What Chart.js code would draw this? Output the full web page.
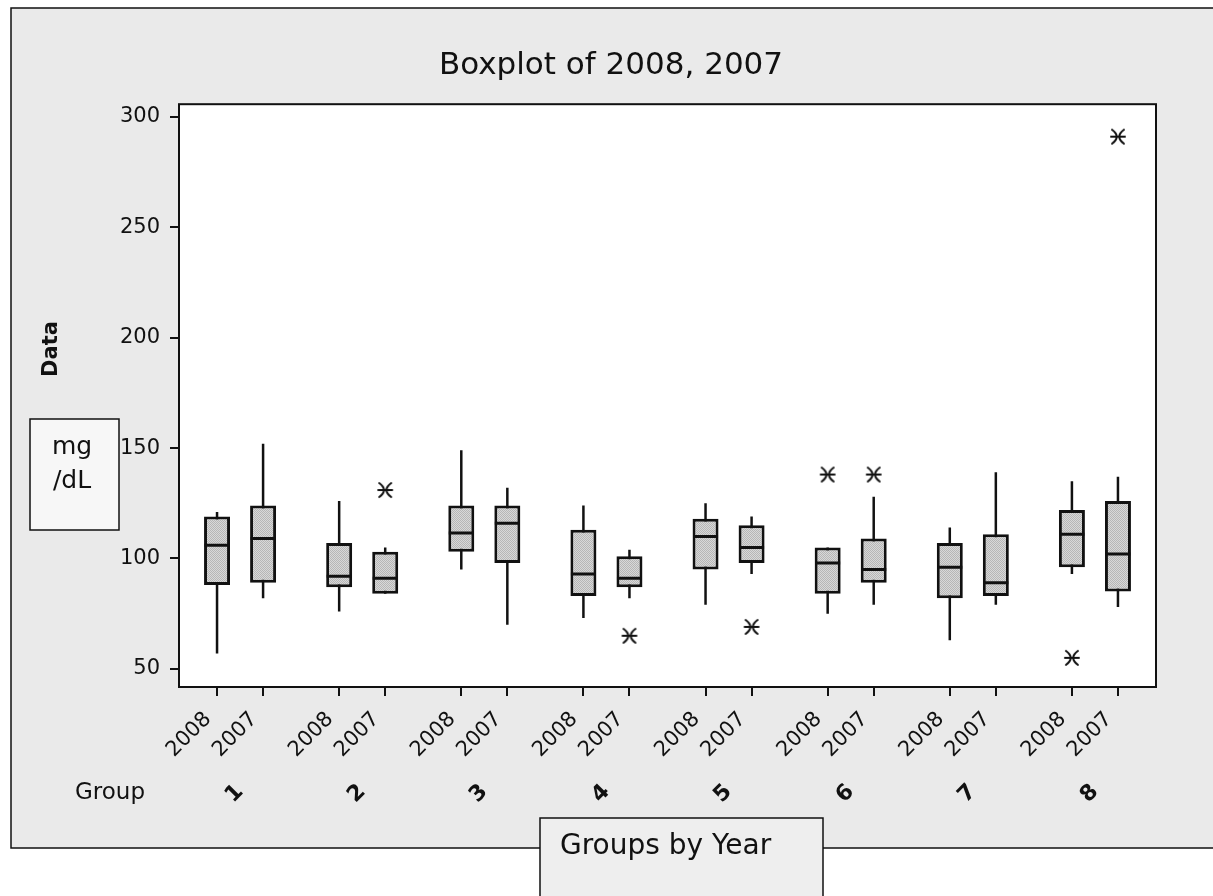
<!DOCTYPE html>
<html><head><meta charset="utf-8">
<script src="https://cdn.jsdelivr.net/npm/chart.js@4"></script>
<style>html,body{margin:0;padding:0;background:#fff;}#wrap{width:1213px;height:896px;position:relative}</style>
</head><body><div id="wrap"><canvas id="c" width="1213" height="896"></canvas></div>
<script>
// ---- data (mg/dL) ----
const groups = ['1','2','3','4','5','6','7','8'];
const years = ['2008','2007'];
const min2008 = [57, 76, 95, 73, 79, 75, 63, 93];
const q1_2008 = [88, 87, 103, 83, 95, 84, 82, 96];
const med2008 = [106, 92, 111.5, 93, 110, 98, 96, 111];
const q3_2008 = [119, 107, 124, 113, 118, 105, 107, 122];
const max2008 = [121, 126, 149, 124, 125, 105, 114, 135];
const out2008 = [[], [], [], [], [], [138], [], [55]];
const min2007 = [82, 84, 70, 82, 93, 79, 79, 78];
const q1_2007 = [89, 84, 98, 87, 98, 89, 83, 85];
const med2007 = [109, 91, 116, 91, 105, 95, 89, 102];
const q3_2007 = [124, 103, 124, 101, 115, 109, 111, 126];
const max2007 = [152, 105, 132, 104, 119, 128, 139, 137];
const out2007 = [[], [131], [], [65], [69], [138], [], [291]];
const yTicks = [50, 100, 150, 200, 250, 300];
const chartTitle = 'Boxplot of 2008, 2007';
const yTitle = 'Data';
const unitText = ['mg', '/dL'];
const groupWord = 'Group';
const xTitle = 'Groups by Year';

// ---- layout helpers ----
const HALF = 0.1885;
const posOf = (g, yi) => (g + 1) + (yi === 0 ? -HALF : HALF);
const series = [
  {mn: min2008, q1: q1_2008, md: med2008, q3: q3_2008, mx: max2008, out: out2008},
  {mn: min2007, q1: q1_2007, md: med2007, q3: q3_2007, mx: max2007, out: out2007}
];
const tickPos = [], tickLab = [];
groups.forEach((g, gi) => years.forEach((y, yi) => { tickPos.push(posOf(gi, yi)); tickLab.push(y); }));
const groupPos = groups.map((g, gi) => gi + 1);

function makeFill() {
  const c = document.createElement('canvas'); c.width = 2; c.height = 2;
  const x = c.getContext('2d');
  x.fillStyle = '#d8d8d8'; x.fillRect(0, 0, 2, 2);
  x.fillStyle = '#b6b6b6'; x.fillRect(0, 0, 1, 1); x.fillRect(1, 1, 1, 1);
  return x.createPattern(c, 'repeat');
}
function makeStar() {
  const c = document.createElement('canvas'); c.width = 18; c.height = 18;
  const x = c.getContext('2d');
  x.strokeStyle = '#111'; x.lineWidth = 2; x.lineCap = 'round';
  x.beginPath();
  x.moveTo(2, 9); x.lineTo(16, 9);
  x.moveTo(3, 2); x.quadraticCurveTo(12.5, 9, 3, 16);
  x.moveTo(15, 2); x.quadraticCurveTo(5.5, 9, 15, 16);
  x.stroke();
  return c;
}
const boxFill = makeFill();
const star = makeStar();

const datasets = [];
series.forEach((s, yi) => {
  datasets.push({type: 'bar', order: 4, grouped: false, maxBarThickness: 2.5,
    backgroundColor: '#111', borderWidth: 0,
    data: s.mn.map((v, g) => ({x: posOf(g, yi), y: [v, s.mx[g]]}))});
  datasets.push({type: 'bar', order: 3, grouped: false, maxBarThickness: 26,
    backgroundColor: boxFill, borderColor: '#111', borderWidth: 3, borderSkipped: false,
    data: s.q1.map((v, g) => ({x: posOf(g, yi), y: [v, s.q3[g]]}))});
  datasets.push({type: 'scatter', order: 2, pointStyle: 'line', pointRadius: 12.5,
    borderColor: '#111', pointBorderWidth: 3, borderWidth: 3,
    data: s.md.map((v, g) => ({x: posOf(g, yi), y: v}))});
  const outs = [];
  s.out.forEach((arr, g) => arr.forEach(v => outs.push({x: posOf(g, yi), y: v})));
  datasets.push({type: 'scatter', order: 1, pointStyle: star, pointRadius: 9, data: outs});
});

const tickFont = {family: 'DejaVu Sans', size: 21};
const deco = {
  id: 'deco',
  beforeDraw(chart) {
    const ctx = chart.ctx, a = chart.chartArea;
    ctx.save();
    ctx.fillStyle = '#eaeaea';
    ctx.fillRect(11, 8, 1230, 840);
    ctx.strokeStyle = '#111'; ctx.lineWidth = 1.5;
    ctx.strokeRect(11, 8, 1230, 840);
    ctx.fillStyle = '#ffffff';
    ctx.fillRect(a.left, a.top, a.right - a.left, a.bottom - a.top);
    ctx.restore();
  },
  afterDraw(chart) {
    const ctx = chart.ctx, a = chart.chartArea;
    ctx.save();
    ctx.strokeStyle = '#111'; ctx.lineWidth = 2;
    ctx.strokeRect(a.left, a.top, a.right - a.left, a.bottom - a.top);
    ctx.fillStyle = '#111';
    ctx.font = 'bold 21px "DejaVu Sans"';
    ctx.translate(52, 349); ctx.rotate(-Math.PI / 2);
    ctx.textAlign = 'center'; ctx.textBaseline = 'middle';
    ctx.fillText(yTitle, 0, 0);
    ctx.setTransform(1, 0, 0, 1, 0, 0);
    ctx.font = '23px "DejaVu Sans"'; ctx.textAlign = 'left';
    ctx.fillText(groupWord, 75, 793);
    ctx.fillStyle = '#f7f7f7'; ctx.fillRect(30, 419, 89, 111);
    ctx.strokeStyle = '#111'; ctx.lineWidth = 1.5; ctx.strokeRect(30, 419, 89, 111);
    ctx.fillStyle = '#111'; ctx.font = '25px "DejaVu Sans"'; ctx.textAlign = 'center';
    ctx.fillText(unitText[0], 72, 447);
    ctx.fillText(unitText[1], 72, 481);
    ctx.fillStyle = '#eeeeee'; ctx.fillRect(540, 818, 283, 100);
    ctx.strokeRect(540, 818, 283, 100);
    ctx.fillStyle = '#111'; ctx.font = '28px "DejaVu Sans"'; ctx.textAlign = 'left';
    ctx.fillText(xTitle, 560, 847);
    ctx.restore();
  }
};

new Chart(document.getElementById('c'), {
  type: 'bar',
  data: {datasets},
  plugins: [deco],
  options: {
    responsive: false, animation: false, devicePixelRatio: 1,
    layout: {padding: {left: 66, right: 57, top: 0, bottom: 79}},
    plugins: {
      legend: {display: false}, tooltip: {enabled: false},
      title: {display: true, text: chartTitle, color: '#111',
        font: {family: 'DejaVu Sans', size: 31, weight: 'normal'}, padding: {top: 47, bottom: 20}}
    },
    scales: {
      x: {type: 'linear', position: 'bottom', min: 0.5, max: 8.5, weight: 0, offset: false,
        afterBuildTicks: s => { s.ticks = tickPos.map(v => ({value: v})); },
        afterFit: s => { s.height = 80; },
        ticks: {callback: (v, i) => tickLab[i], autoSkip: false, minRotation: 45, maxRotation: 45,
          font: tickFont, color: '#111', padding: 11, labelOffset: -9},
        grid: {offset: false, drawOnChartArea: false, drawTicks: true, tickLength: 9, color: '#111', lineWidth: 2},
        border: {display: false}},
      xg: {type: 'linear', position: 'bottom', min: 0.5, max: 8.5, weight: 1, offset: false,
        afterBuildTicks: s => { s.ticks = groupPos.map(v => ({value: v})); },
        afterFit: s => { s.height = 50; },
        ticks: {callback: (v, i) => groups[i], autoSkip: false, minRotation: 45, maxRotation: 45,
          font: {family: 'DejaVu Sans', size: 22, weight: 'bold'}, color: '#111', padding: 12, labelOffset: 0},
        grid: {display: false, drawTicks: false, offset: false},
        border: {display: false}},
      y: {type: 'linear', min: 41.8, max: 305.7,
        afterBuildTicks: s => { s.ticks = yTicks.map(v => ({value: v})); },
        afterFit: s => { s.width = 113; },
        ticks: {font: {family: 'DejaVu Sans', size: 21}, color: '#111', padding: 10},
        grid: {drawOnChartArea: false, drawTicks: true, tickLength: 9, color: '#111', lineWidth: 2},
        border: {display: false}}
    }
  }
});
</script></body></html>
